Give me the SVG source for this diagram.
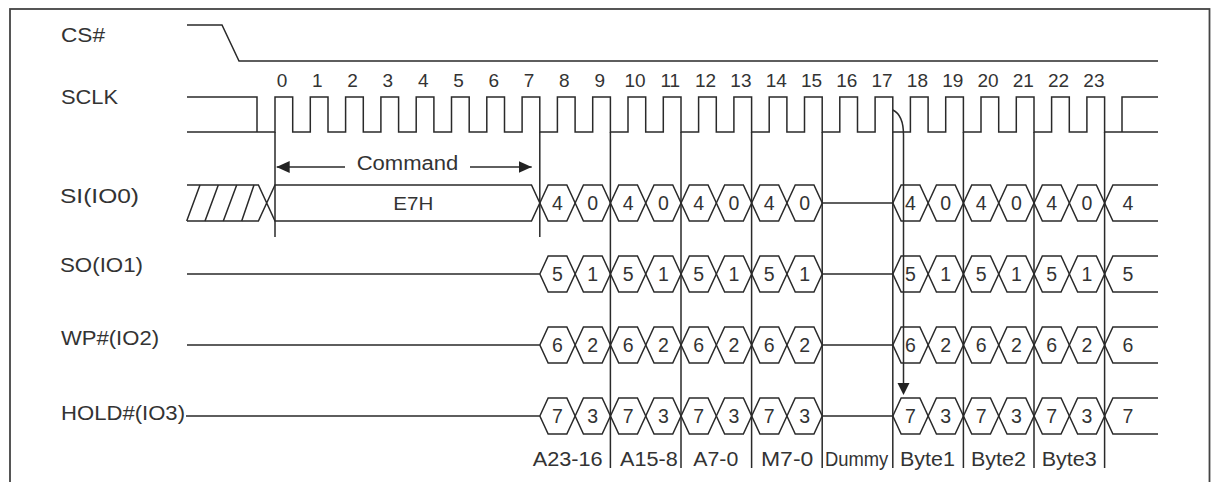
<svg xmlns="http://www.w3.org/2000/svg" xmlns:xlink="http://www.w3.org/1999/xlink" width="1213" height="482" viewBox="0 0 1213 482">
<defs>
<style>
.ln{fill:none;stroke:#2a2a2a;stroke-width:1.5;stroke-linejoin:miter}
.gd{fill:none;stroke:#2a2a2a;stroke-width:1.5}
.lb{font-family:"Liberation Sans",Arial,sans-serif;font-size:21px;fill:#333}
.nm{font-family:"Liberation Sans",Arial,sans-serif;font-size:19px;fill:#333;text-anchor:middle}
.dg{font-family:"Liberation Sans",Arial,sans-serif;font-size:19.5px;fill:#333;text-anchor:middle}
.bl{font-family:"Liberation Sans",Arial,sans-serif;font-size:20px;fill:#333}
</style>
<path id="hx" d="M-17.65 0 L-9.35 -18 H9.35 L17.65 0 L9.35 18 H-9.35 Z" fill="none" stroke="#2a2a2a" stroke-width="1.5"/>
<marker id="ah" viewBox="0 0 13 12" refX="13" refY="6" markerWidth="13" markerHeight="12" markerUnits="userSpaceOnUse" orient="auto">
<path d="M0 0 L13 6 L0 12 Z" fill="#222"/>
</marker>
</defs>
<rect x="0" y="0" width="1213" height="482" fill="#fff"/>
<rect x="10" y="9" width="1199.5" height="490" fill="none" stroke="#444" stroke-width="1.8"/>

<g id="labels">
<text class="lb" x="61" y="42" textLength="44" lengthAdjust="spacingAndGlyphs">CS#</text>
<text class="lb" x="61" y="104" textLength="57" lengthAdjust="spacingAndGlyphs">SCLK</text>
<text class="lb" x="60" y="203" textLength="79" lengthAdjust="spacingAndGlyphs">SI(IO0)</text>
<text class="lb" x="60" y="272" textLength="83" lengthAdjust="spacingAndGlyphs">SO(IO1)</text>
<text class="lb" x="61" y="345" textLength="98" lengthAdjust="spacingAndGlyphs">WP#(IO2)</text>
<text class="lb" x="61" y="420" textLength="124" lengthAdjust="spacingAndGlyphs">HOLD#(IO3)</text>
</g>

<g id="cs">
<path class="ln" d="M187 25 H222 L239 61 H1158"/>
</g>

<g id="sclk">
<path class="ln" d="M187 132 H275 V97 H292.7 V132 H310.3 V97 H328 V132 H345.6 V97 H363.3 V132 H380.9 V97 H398.6 V132 H416.2 V97 H433.9 V132 H451.5 V97 H469.2 V132 H486.8 V97 H504.5 V132 H522.1 V97 H539.8 V132 H557.4 V97 H575.1 V132 H592.7 V97 H610.4 V132 H628 V97 H645.7 V132 H663.3 V97 H681 V132 H698.6 V97 H716.3 V132 H733.9 V97 H751.6 V132 H769.2 V97 H786.9 V132 H804.5 V97 H822.2 V132 H839.8 V97 H857.5 V132 H875.1 V97 H892.8 V132 H910.4 V97 H928.1 V132 H945.7 V97 H963.4 V132 H981 V97 H998.7 V132 H1016.3 V97 H1034 V132 H1051.6 V97 H1069.3 V132 H1086.9 V97 H1104.6 V132 H1158 M1122 132 V97 H1158 M187 97 H257 V132 H275"/>
<text class="nm" x="282" y="87">0</text>
<text class="nm" x="317.3" y="87">1</text>
<text class="nm" x="352.6" y="87">2</text>
<text class="nm" x="387.9" y="87">3</text>
<text class="nm" x="423.2" y="87">4</text>
<text class="nm" x="458.5" y="87">5</text>
<text class="nm" x="493.8" y="87">6</text>
<text class="nm" x="529.1" y="87">7</text>
<text class="nm" x="564.4" y="87">8</text>
<text class="nm" x="599.7" y="87">9</text>
<text class="nm" x="635" y="87">10</text>
<text class="nm" x="670.3" y="87">11</text>
<text class="nm" x="705.6" y="87">12</text>
<text class="nm" x="740.9" y="87">13</text>
<text class="nm" x="776.2" y="87">14</text>
<text class="nm" x="811.5" y="87">15</text>
<text class="nm" x="846.8" y="87">16</text>
<text class="nm" x="882.1" y="87">17</text>
<text class="nm" x="917.4" y="87">18</text>
<text class="nm" x="952.7" y="87">19</text>
<text class="nm" x="988" y="87">20</text>
<text class="nm" x="1023.3" y="87">21</text>
<text class="nm" x="1058.6" y="87">22</text>
<text class="nm" x="1093.9" y="87">23</text>
</g>

<g id="guides">
<path class="gd" d="M275 132 V237 M539.8 132 V237 M610.4 132 V468 M681 132 V468 M751.6 132 V468 M822.2 132 V468 M892.8 132 V468 M963.4 132 V468 M1034 132 V468 M1104.6 132 V468"/>
</g>

<g id="command">
<line class="gd" x1="345" y1="167" x2="276.7" y2="167" marker-end="url(#ah)"/>
<line class="gd" x1="470" y1="167" x2="531.7" y2="167" marker-end="url(#ah)"/>
<text class="lb" x="356.7" y="170" style="font-size:19.5px" textLength="101.6" lengthAdjust="spacingAndGlyphs">Command</text>
</g>

<g id="si">
<path class="ln" d="M187 185 H258.4 L275 221 H531.5 L539.8 203 L531.5 185 H275 L258.4 221 H187"/>
<path class="ln" d="M186.7 221 L200 185 M205 221 L218.3 185 M223.3 221 L236.7 185 M241.7 221 L254 185"/>
<text class="lb" x="393.3" y="210" style="font-size:19px" textLength="40" lengthAdjust="spacingAndGlyphs">E7H</text>
<use href="#hx" x="557.5" y="203"/><use href="#hx" x="592.8" y="203"/><use href="#hx" x="628.1" y="203"/><use href="#hx" x="663.4" y="203"/>
<use href="#hx" x="698.7" y="203"/><use href="#hx" x="734" y="203"/><use href="#hx" x="769.3" y="203"/><use href="#hx" x="804.6" y="203"/>
<path class="ln" d="M822.2 203 H892.8"/>
<use href="#hx" x="910.5" y="203"/><use href="#hx" x="945.8" y="203"/><use href="#hx" x="981.1" y="203"/><use href="#hx" x="1016.4" y="203"/><use href="#hx" x="1051.7" y="203"/><use href="#hx" x="1087" y="203"/>
<path class="ln" d="M1158 185 H1112.9 L1104.6 203 L1112.9 221 H1158"/>
<text class="dg" x="557.5" y="210">4</text><text class="dg" x="592.8" y="210">0</text><text class="dg" x="628.1" y="210">4</text><text class="dg" x="663.4" y="210">0</text>
<text class="dg" x="698.7" y="210">4</text><text class="dg" x="734" y="210">0</text><text class="dg" x="769.3" y="210">4</text><text class="dg" x="804.6" y="210">0</text>
<text class="dg" x="910.5" y="210">4</text><text class="dg" x="945.8" y="210">0</text><text class="dg" x="981.1" y="210">4</text><text class="dg" x="1016.4" y="210">0</text><text class="dg" x="1051.7" y="210">4</text><text class="dg" x="1087" y="210">0</text>
<text class="dg" x="1128" y="210">4</text>
</g>

<g id="so">
<path class="ln" d="M187 274 H539.8 M822.2 274 H892.8 M1158 256 H1112.9 L1104.6 274 L1112.9 292 H1158"/>
<use href="#hx" x="557.5" y="274"/><use href="#hx" x="592.8" y="274"/><use href="#hx" x="628.1" y="274"/><use href="#hx" x="663.4" y="274"/>
<use href="#hx" x="698.7" y="274"/><use href="#hx" x="734" y="274"/><use href="#hx" x="769.3" y="274"/><use href="#hx" x="804.6" y="274"/>
<use href="#hx" x="910.5" y="274"/><use href="#hx" x="945.8" y="274"/><use href="#hx" x="981.1" y="274"/><use href="#hx" x="1016.4" y="274"/><use href="#hx" x="1051.7" y="274"/><use href="#hx" x="1087" y="274"/>
<text class="dg" x="557.5" y="281">5</text><text class="dg" x="592.8" y="281">1</text><text class="dg" x="628.1" y="281">5</text><text class="dg" x="663.4" y="281">1</text>
<text class="dg" x="698.7" y="281">5</text><text class="dg" x="734" y="281">1</text><text class="dg" x="769.3" y="281">5</text><text class="dg" x="804.6" y="281">1</text>
<text class="dg" x="910.5" y="281">5</text><text class="dg" x="945.8" y="281">1</text><text class="dg" x="981.1" y="281">5</text><text class="dg" x="1016.4" y="281">1</text><text class="dg" x="1051.7" y="281">5</text><text class="dg" x="1087" y="281">1</text>
<text class="dg" x="1128" y="281">5</text>
</g>

<g id="wp">
<path class="ln" d="M187 345 H539.8 M822.2 345 H892.8 M1158 327 H1112.9 L1104.6 345 L1112.9 363 H1158"/>
<use href="#hx" x="557.5" y="345"/><use href="#hx" x="592.8" y="345"/><use href="#hx" x="628.1" y="345"/><use href="#hx" x="663.4" y="345"/>
<use href="#hx" x="698.7" y="345"/><use href="#hx" x="734" y="345"/><use href="#hx" x="769.3" y="345"/><use href="#hx" x="804.6" y="345"/>
<use href="#hx" x="910.5" y="345"/><use href="#hx" x="945.8" y="345"/><use href="#hx" x="981.1" y="345"/><use href="#hx" x="1016.4" y="345"/><use href="#hx" x="1051.7" y="345"/><use href="#hx" x="1087" y="345"/>
<text class="dg" x="557.5" y="352">6</text><text class="dg" x="592.8" y="352">2</text><text class="dg" x="628.1" y="352">6</text><text class="dg" x="663.4" y="352">2</text>
<text class="dg" x="698.7" y="352">6</text><text class="dg" x="734" y="352">2</text><text class="dg" x="769.3" y="352">6</text><text class="dg" x="804.6" y="352">2</text>
<text class="dg" x="910.5" y="352">6</text><text class="dg" x="945.8" y="352">2</text><text class="dg" x="981.1" y="352">6</text><text class="dg" x="1016.4" y="352">2</text><text class="dg" x="1051.7" y="352">6</text><text class="dg" x="1087" y="352">2</text>
<text class="dg" x="1128" y="352">6</text>
</g>

<g id="hold">
<path class="ln" d="M186 416 H539.8 M822.2 416 H892.8 M1158 398 H1112.9 L1104.6 416 L1112.9 434 H1158"/>
<use href="#hx" x="557.5" y="416"/><use href="#hx" x="592.8" y="416"/><use href="#hx" x="628.1" y="416"/><use href="#hx" x="663.4" y="416"/>
<use href="#hx" x="698.7" y="416"/><use href="#hx" x="734" y="416"/><use href="#hx" x="769.3" y="416"/><use href="#hx" x="804.6" y="416"/>
<use href="#hx" x="910.5" y="416"/><use href="#hx" x="945.8" y="416"/><use href="#hx" x="981.1" y="416"/><use href="#hx" x="1016.4" y="416"/><use href="#hx" x="1051.7" y="416"/><use href="#hx" x="1087" y="416"/>
<text class="dg" x="557.5" y="423">7</text><text class="dg" x="592.8" y="423">3</text><text class="dg" x="628.1" y="423">7</text><text class="dg" x="663.4" y="423">3</text>
<text class="dg" x="698.7" y="423">7</text><text class="dg" x="734" y="423">3</text><text class="dg" x="769.3" y="423">7</text><text class="dg" x="804.6" y="423">3</text>
<text class="dg" x="910.5" y="423">7</text><text class="dg" x="945.8" y="423">3</text><text class="dg" x="981.1" y="423">7</text><text class="dg" x="1016.4" y="423">3</text><text class="dg" x="1051.7" y="423">7</text><text class="dg" x="1087" y="423">3</text>
<text class="dg" x="1128" y="423">7</text>
</g>

<g id="connectors">
<path class="gd" d="M892.8 110 Q903.5 115 903.5 135 V384"/>
<path d="M897.5 383 H909.5 L903.5 395 Z" fill="#222"/>
</g>

<g id="phases">
<text class="bl" x="532.7" y="466" textLength="70" lengthAdjust="spacingAndGlyphs">A23-16</text>
<text class="bl" x="620" y="466" textLength="57.7" lengthAdjust="spacingAndGlyphs">A15-8</text>
<text class="bl" x="693.3" y="466" textLength="45" lengthAdjust="spacingAndGlyphs">A7-0</text>
<text class="bl" x="761" y="466" textLength="52.3" lengthAdjust="spacingAndGlyphs">M7-0</text>
<text class="bl" x="825" y="466" textLength="63.3" lengthAdjust="spacingAndGlyphs">Dummy</text>
<text class="bl" x="900" y="466" textLength="55" lengthAdjust="spacingAndGlyphs">Byte1</text>
<text class="bl" x="971" y="466" textLength="55" lengthAdjust="spacingAndGlyphs">Byte2</text>
<text class="bl" x="1041.7" y="466" textLength="55" lengthAdjust="spacingAndGlyphs">Byte3</text>
</g>
</svg>
